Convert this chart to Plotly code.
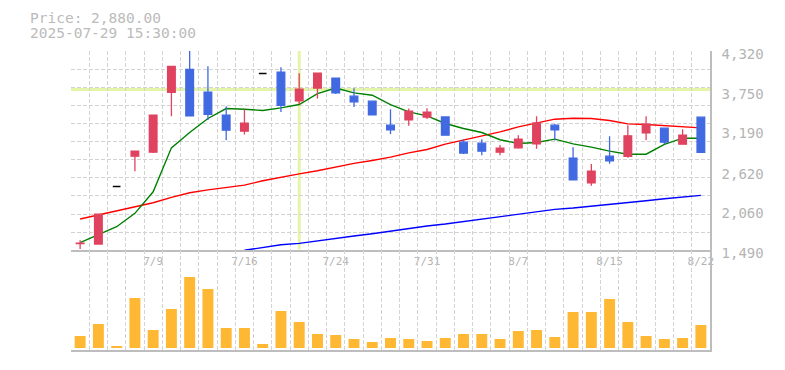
import plotly.graph_objects as go

# ---------------- data ----------------
dates = ["7/3", "7/4", "7/7", "7/8", "7/9", "7/10", "7/11", "7/14", "7/15", "7/16",
         "7/17", "7/18", "7/22", "7/23", "7/24", "7/25", "7/28", "7/29", "7/30", "7/31",
         "8/1", "8/4", "8/5", "8/6", "8/7", "8/8", "8/12", "8/13", "8/14", "8/15",
         "8/18", "8/19", "8/20", "8/21", "8/22"]

opens = [1585, 1579, 2397, 2827, 2884, 3734, 4060, 3734, 3408, 3182,
         4000, 4018, 3611, 3795, 3933, 3678, 3607, 3267, 3342, 3380,
         3384, 3026, 3011, 2884, 2945, 3001, 3267, 2799, 2449, 2827,
         2823, 3157, 3224, 2997, 3380]
highs = [1632, 2005, 2397, 2898, 3408, 4103, 4330, 4103, 3536, 3489,
         4000, 4089, 4004, 4004, 3933, 3791, 3607, 3493, 3503, 3507,
         3394, 3064, 3068, 2987, 3125, 3394, 3285, 2955, 2714, 3111,
         3267, 3394, 3224, 3210, 3380]
lows = [1509, 1579, 2397, 2614, 2870, 3394, 3398, 3342, 3054, 3135,
        4000, 3455, 3564, 3645, 3710, 3526, 3413, 3143, 3257, 3356,
        3115, 2856, 2841, 2841, 2931, 2931, 3050, 2491, 2406, 2718,
        2803, 3054, 2997, 2997, 2870]
closes = [1592, 2005, 2397, 2898, 3408, 4103, 3398, 3422, 3196, 3295,
          4000, 3550, 3777, 4004, 3725, 3597, 3413, 3200, 3465, 3451,
          3125, 2870, 2898, 2940, 3068, 3299, 3200, 2491, 2614, 2760,
          3115, 3281, 3026, 3125, 2880]

ma_short = [1598, 1717, 1825, 2015, 2321, 2945, 3163, 3362, 3503, 3493,
            3475, 3512, 3560, 3716, 3795, 3725, 3692, 3560, 3455, 3398,
            3291, 3220, 3163, 3060, 3007, 3021, 3068, 3001, 2955, 2898,
            2855, 2855, 2993, 3082, 3082]
ma_mid = [1934, 1991, 2052, 2100, 2165, 2241, 2307, 2349, 2383, 2416,
          2477, 2529, 2576, 2619, 2675, 2724, 2766, 2813, 2874, 2922,
          2997, 3054, 3106, 3172, 3242, 3299, 3352, 3366, 3362, 3333,
          3285, 3276, 3257, 3248, 3228]
ma_long = [None, None, None, None, None, None, None, None, None, 1490,
           1533, 1569, 1589, 1626, 1660, 1693, 1725, 1764, 1802, 1835,
           1863, 1896, 1938, 1972, 2005, 2037, 2071, 2090, 2114, 2137,
           2171, 2193, 2222, 2246, 2270]

volume = [12, 24, 2, 50, 18, 39, 71, 59, 20, 20,
          4, 37, 26, 14, 13, 9, 6, 10, 9, 7,
          10, 14, 14, 9, 17, 18, 11, 36, 36, 49,
          26, 12, 9, 10, 23]

price_ticks = [1490, 2060, 2620, 3190, 3750, 4320]
date_tick_idx = [4, 9, 14, 19, 24, 29, 34]

header_price = "Price: 2,880.00"
header_time = "2025-07-29 15:30:00"
cross_idx = 12
cross_price = 3773

# ---------------- styles ----------------
RED = "#E0435F"
BLUE = "#4169E1"
VOL = "#FFB833"
GRID = "#d3d3d3"
AXIS = "#bdbdbd"
TXT = "#b4b4b4"
CROSS = "#E5F5A8"
MONO = "DejaVu Sans Mono"

n = len(dates)
idx = list(range(n))
doji = [i for i in idx if opens[i] == closes[i] == highs[i] == lows[i]]
normal = [i for i in idx if i not in doji]

fig = go.Figure()

# moving averages (base subplot)
for vals, col in [(ma_long, "#0000ff"), (ma_mid, "#ff0000"), (ma_short, "#008000")]:
    fig.add_trace(go.Scatter(x=idx, y=vals, mode="lines", line=dict(color=col, width=1.4),
                             xaxis="x", yaxis="y", hoverinfo="skip", showlegend=False,
                             connectgaps=False))

# candles on an overlaid subplot so they sit above the lines
fig.add_trace(go.Candlestick(
    x=normal, open=[opens[i] for i in normal], high=[highs[i] for i in normal],
    low=[lows[i] for i in normal], close=[closes[i] for i in normal],
    increasing=dict(line=dict(color=RED, width=1.3), fillcolor=RED),
    decreasing=dict(line=dict(color=BLUE, width=1.3), fillcolor=BLUE),
    xaxis="x3", yaxis="y3", showlegend=False, whiskerwidth=0))
fig.add_trace(go.Candlestick(
    x=doji, open=[opens[i] for i in doji], high=[highs[i] for i in doji],
    low=[lows[i] for i in doji], close=[closes[i] for i in doji],
    increasing=dict(line=dict(color="black", width=1.5), fillcolor="black"),
    decreasing=dict(line=dict(color="black", width=1.5), fillcolor="black"),
    xaxis="x3", yaxis="y3", showlegend=False, whiskerwidth=0))

# volume
fig.add_trace(go.Bar(x=idx, y=volume, marker=dict(color=VOL, line=dict(width=0)),
                     width=0.6, xaxis="x2", yaxis="y2", showlegend=False))

xr = [-0.5, n - 0.5]
vgrid = [i - 0.5 for i in range(n + 1)]
hgrid = [price_ticks[0] + k * (price_ticks[-1] - price_ticks[0]) / 11 for k in range(12)]
price_dom = [0.3334, 1]

fig.update_layout(
    width=785, height=370,
    margin=dict(l=71, r=75, t=51, b=20, autoexpand=False),
    paper_bgcolor="white", plot_bgcolor="white",
    boxgap=0.4, bargap=0.4,
    font=dict(family=MONO, color=TXT),
    xaxis=dict(domain=[0, 1], range=xr, anchor="y", automargin=False,
               tickmode="array", tickvals=date_tick_idx,
               ticktext=[dates[i] for i in date_tick_idx],
               tickfont=dict(size=11, color=TXT, family=MONO),
               ticks="", showgrid=False, zeroline=False,
               showline=True, linecolor=AXIS, linewidth=1.5,
               rangeslider=dict(visible=False),
               minor=dict(tickmode="array", tickvals=vgrid, showgrid=True,
                          gridcolor=GRID, griddash="4px,2px", gridwidth=1, ticks="")),
    yaxis=dict(domain=price_dom, range=[price_ticks[0], price_ticks[-1]], anchor="x",
               automargin=False,
               side="right", tickmode="array", tickvals=price_ticks,
               ticktext=[f"{v:,}" for v in price_ticks],
               tickfont=dict(size=14, color=TXT, family=MONO),
               ticks="", ticklabelstandoff=7, ticklabelshift=3,
               showgrid=False, zeroline=False,
               showline=True, linecolor=AXIS, linewidth=1.5,
               minor=dict(tickmode="array", tickvals=hgrid, showgrid=True,
                          gridcolor=GRID, griddash="4px,2px", gridwidth=1, ticks="")),
    xaxis3=dict(overlaying="x", matches="x", range=xr, visible=False, automargin=False,
                rangeslider=dict(visible=False), anchor="y3"),
    yaxis3=dict(overlaying="y", matches="y", range=[price_ticks[0], price_ticks[-1]],
                visible=False, anchor="x3", automargin=False),
    xaxis2=dict(domain=[0, 1], range=xr, anchor="y2", matches="x", automargin=False,
                showticklabels=False, ticks="", showgrid=False, zeroline=False,
                showline=True, linecolor=AXIS, linewidth=1.5,
                minor=dict(tickmode="array", tickvals=vgrid, showgrid=True,
                           gridcolor=GRID, griddash="4px,2px", gridwidth=1, ticks="")),
    yaxis2=dict(domain=[0, price_dom[0]], range=[-2, 97.7], anchor="x2", side="right",
                automargin=False,
                showticklabels=False, ticks="", showgrid=False, zeroline=False,
                showline=True, linecolor=AXIS, linewidth=1.5),
    shapes=[
        dict(type="line", xref="x domain", yref="y", x0=0, x1=1,
             y0=cross_price, y1=cross_price, line=dict(color=CROSS, width=3), layer="below"),
        dict(type="line", xref="x", yref="y domain", x0=cross_idx, x1=cross_idx,
             y0=0.005, y1=1, line=dict(color=CROSS, width=3), layer="below"),
    ],
    annotations=[
        dict(text=header_price, xref="paper", yref="paper", x=-0.067, y=1.1114,
             xanchor="left", yanchor="middle", showarrow=False,
             font=dict(size=14.5, color="#bbbbbb", family=MONO)),
        dict(text=header_time, xref="paper", yref="paper", x=-0.067, y=1.0612,
             xanchor="left", yanchor="middle", showarrow=False,
             font=dict(size=14.5, color="#bbbbbb", family=MONO)),
    ],
)

fig.write_html("out.html", config={"displayModeBar": False},
               post_script="document.body.style.margin='0';")
